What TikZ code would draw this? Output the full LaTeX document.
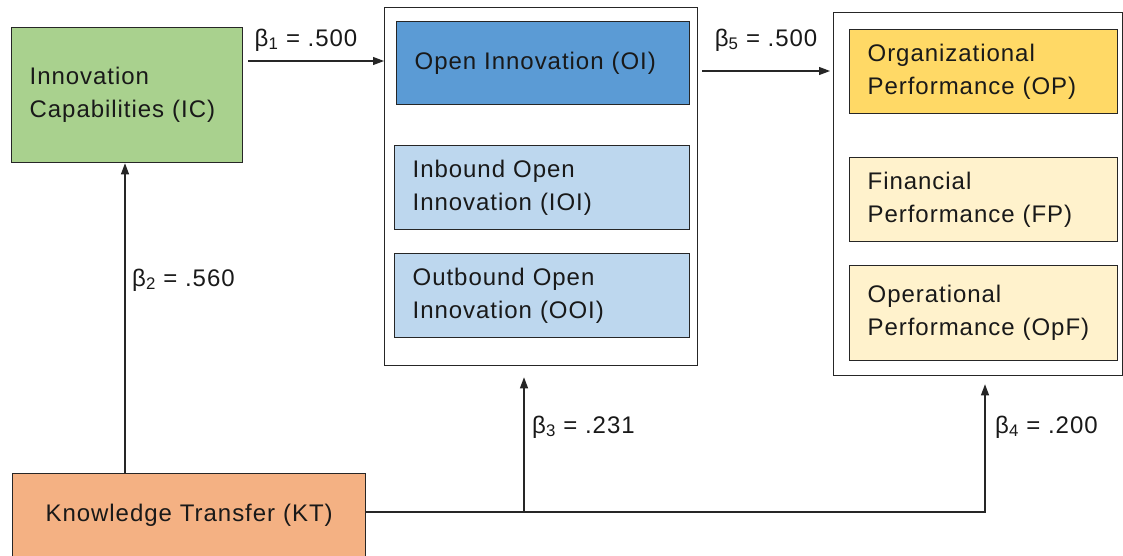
\documentclass[tikz,border=0pt]{standalone}
\usepackage{fontspec}
\setmainfont{Liberation Sans}[LetterSpace=4]
\usetikzlibrary{arrows.meta,calc}
\definecolor{icgreen}{HTML}{A9D18E}
\definecolor{oiblue}{HTML}{5B9BD5}
\definecolor{lblue}{HTML}{BDD7EE}
\definecolor{opgold}{HTML}{FFD966}
\definecolor{lyellow}{HTML}{FFF2CC}
\definecolor{ktorange}{HTML}{F4B183}
\definecolor{edge}{HTML}{262626}
\begin{document}
\begin{tikzpicture}[x=1pt,y=-1pt,
  box/.style={draw=edge, line width=1.3pt, inner xsep=18pt, inner ysep=0pt,
    align=left, anchor=north west, font=\fontsize{24}{33}\selectfont, text=black!90},
  frame/.style={draw=edge, line width=1.3pt, inner sep=0pt, anchor=north west},
  lbl/.style={font=\fontsize{24}{28}\selectfont, inner sep=0pt, text=black!90},
  arr/.style={draw=edge, line width=1.1pt, -{Triangle[length=11pt,width=8pt]}}
]
\useasboundingbox (0,0) rectangle (1123,555);
\fill[white] (0,0) rectangle (1123,555);

% containers
\node[frame, minimum width=313pt, minimum height=358pt] (OIc) at (384,7) {};
\node[frame, minimum width=289pt, minimum height=363pt] (OPc) at (833,12) {};

% boxes
\node[box, fill=icgreen, minimum width=231pt, text width=195pt, minimum height=135pt] (IC) at (11,27) {Innovation\\Capabilities (IC)};
\node[box, fill=oiblue, minimum width=293pt, text width=257pt, minimum height=83pt] (OI) at (396,21) {Open Innovation (OI)};
\node[box, fill=lblue, minimum width=295pt, text width=259pt, minimum height=84pt] (IOI) at (394,145) {Inbound Open\\Innovation (IOI)};
\node[box, fill=lblue, minimum width=295pt, text width=259pt, minimum height=84pt] (OOI) at (394,253) {Outbound Open\\Innovation (OOI)};
\node[box, fill=opgold, minimum width=268pt, text width=232pt, minimum height=84pt] (OP) at (849,29) {Organizational\\Performance (OP)};
\node[box, fill=lyellow, minimum width=268pt, text width=232pt, minimum height=84pt] (FP) at (849,157) {Financial\\Performance (FP)};
\node[box, fill=lyellow, minimum width=268pt, text width=232pt, minimum height=95pt] (OpF) at (849,265) {Operational\\Performance (OpF)};
\node[box, fill=ktorange, align=center, minimum width=353pt, text width=317pt, minimum height=92pt] (KT) at (12,473) {\raisebox{13pt}{Knowledge Transfer (KT)}};

% connectors
\draw[arr] (IC.east |- 0,61) ++(5,0) -- (OIc.west |- 0,61);
\draw[arr] (OIc.east |- 0,71) ++(4,0) -- ($(OPc.west |- 0,71)+(-3,0)$);
\draw[arr] (KT.north -| 125,0) -- (IC.south -| 125,0);
\draw[arr] (KT.east |- 0,512) -| ($(OPc.south -| 985,0)+(0,8)$);
\coordinate (j3) at (524,512);
\draw[arr] (j3) -- ($(OIc.south -| j3)+(0,11)$);

% labels
\node[lbl] (l1) at (306,40) {β\textsubscript{1} = .500};
\node[lbl] (l5) at (766,40) {β\textsubscript{5} = .500};
\node[lbl, anchor=west] (l2) at (132,280) {β\textsubscript{2} = .560};
\node[lbl, anchor=west] (l3) at (532,427) {β\textsubscript{3} = .231};
\node[lbl, anchor=west] (l4) at (995,427) {β\textsubscript{4} = .200};
\end{tikzpicture}
\end{document}
